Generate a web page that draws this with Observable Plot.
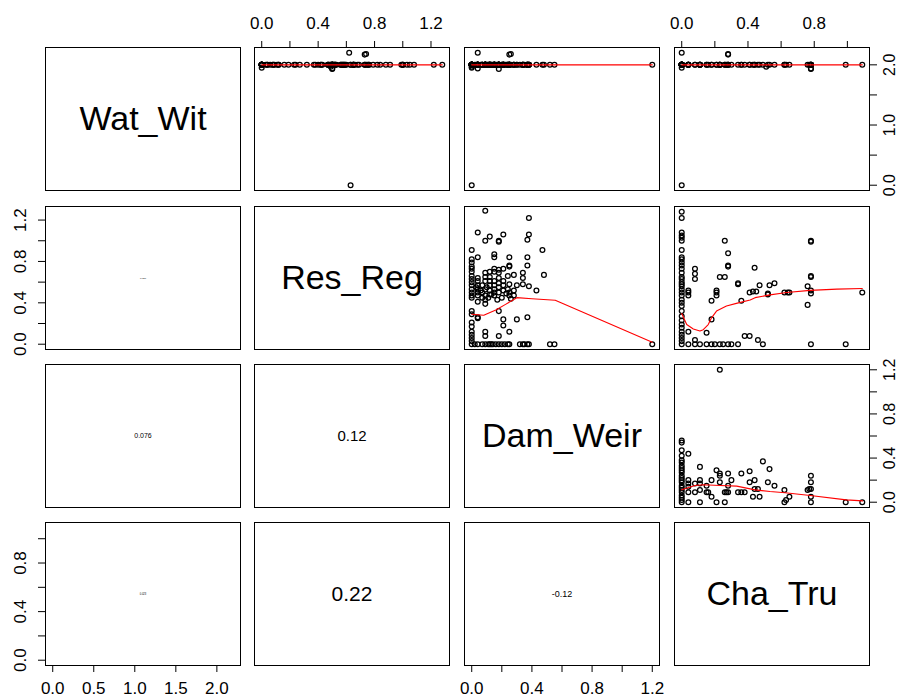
<!DOCTYPE html>
<html><head><meta charset="utf-8">
<script src="https://cdn.jsdelivr.net/npm/d3@7"></script>
<script src="https://cdn.jsdelivr.net/npm/@observablehq/plot@0.6"></script>
<style>
html,body{margin:0;padding:0;background:#fff;overflow:hidden;}
#chart{position:relative;width:900px;height:697px;overflow:hidden;background:#fff;}
#chart svg{position:absolute;overflow:visible;}
</style></head><body><div id="chart"></div>
<script>
// ---------------- data ----------------
const varNames = ["Wat_Wit", "Res_Reg", "Dam_Weir", "Cha_Tru"];
const varRanges = [[0, 2.2], [0, 1.28], [0, 1.2], [0, 1.09]];
const axisTicks = [
  [0, 0.5, 1, 1.5, 2],
  [0, 0.2, 0.4, 0.6, 0.8, 1.0, 1.2],
  [0, 0.2, 0.4, 0.6, 0.8, 1.0, 1.2],
  [0, 0.2, 0.4, 0.6, 0.8, 1.0]
];
const xTickLabels = [[0, 0.5, 1, 1.5, 2], [0, 0.4, 0.8, 1.2], [0, 0.4, 0.8, 1.2], [0, 0.4, 0.8]];
const yTickLabels = [[0, 1, 2], [0, 0.4, 0.8, 1.2], [0, 0.4, 0.8, 1.2], [0, 0.4, 0.8]];

// Res_Reg (y) against Dam_Weir (x)
const damRes = [
  [0,0.91],[0,0.82],[0,0.79],[0,0.75],[0,0.73],[0,0.70],[0,0.66],[0,0.63],[0,0.60],[0,0.57],[0,0.53],[0,0.50],[0,0.47],[0,0.45],[0,0.32],[0,0.29],[0,0.21],[0,0.17],[0,0.12],[0,0.09],[0,0.06],[0,0.03],[0,0],
  [0.04,1.08],[0.04,0.84],[0.04,0.64],[0.04,0.61],[0.04,0.57],[0.04,0.53],[0.04,0.50],[0.04,0.47],[0.04,0.41],[0.04,0.26],[0.04,0.25],[0.04,0],
  [0.02,0],[0.03,0.55],[0.06,0.52],
  [0.07,0],[0.07,0.57],[0.07,0.50],[0.07,0.45],
  [0.09,1.29],[0.09,1.0],[0.09,0.69],[0.09,0.65],[0.09,0.61],[0.09,0.53],[0.09,0.47],[0.09,0.43],[0.09,0.39],[0.09,0.12],[0.09,0.08],[0.09,0],
  [0.10,0.55],[0.11,0.45],[0.11,0],
  [0.12,1.04],[0.12,0.70],[0.12,0.65],[0.12,0.61],[0.12,0.57],[0.12,0.52],[0.12,0.48],[0.12,0],
  [0.13,0.48],[0.13,0],[0.14,0],
  [0.15,0.87],[0.15,0.84],[0.15,0.73],[0.15,0.70],[0.15,0.61],[0.15,0.57],[0.15,0.53],[0.15,0.50],[0.15,0.47],
  [0.16,0],[0.17,0.43],
  [0.18,1.0],[0.18,0.99],[0.18,0.72],[0.18,0.69],[0.18,0.64],[0.18,0.59],[0.18,0.55],[0.18,0.50],[0.18,0.32],[0.18,0.08],[0.18,0],
  [0.20,0.45],[0.20,0],
  [0.21,1.06],[0.21,0.73],[0.21,0.61],[0.21,0.57],[0.21,0.52],[0.21,0.24],[0.21,0.18],
  [0.22,0],[0.23,0.49],
  [0.24,0.66],[0.24,0.53],[0.24,0],
  [0.25,0.84],[0.25,0.75],[0.25,0.76],[0.25,0.58],[0.25,0.50],[0.25,0.47],[0.25,0.12],[0.25,0],
  [0.26,0.44],[0.28,0.67],[0.28,0.47],[0.28,0.52],
  [0.30,0.57],[0.30,0.24],
  [0.32,0],[0.34,0],
  [0.34,0.69],[0.34,0.64],[0.34,0.58],
  [0.35,0],
  [0.37,1.01],[0.37,0.84],[0.37,0.76],[0.37,0.26],[0.37,0],
  [0.38,1.22],[0.38,1.06],[0.38,0.56],[0.38,0],
  [0.43,0.52],[0.47,0.91],[0.48,0.67],
  [0.52,0],[0.55,0],[1.2,0]
];
const damResSmooth = [[0,0.29],[0.08,0.28],[0.16,0.33],[0.225,0.385],[0.30,0.45],[0.40,0.44],[0.555,0.425],[1.2,0.02]];

// Res_Reg (y) against Cha_Tru (x)
const chaRes = [
  [0,1.28],[0,1.22],[0,1.08],[0,1.05],[0,1.03],[0,1.0],[0,0.91],[0,0.84],[0,0.82],[0,0.79],[0,0.76],[0,0.73],[0,0.69],[0,0.65],[0,0.63],[0,0.60],[0,0.58],[0,0.56],[0,0.53],[0,0.50],[0,0.47],[0,0.43],[0,0.40],[0,0.37],[0,0.32],[0,0.27],[0,0.23],[0,0.19],[0,0.16],[0,0.12],[0,0.09],[0,0.06],[0,0.03],[0,0],
  [0.04,0.52],[0.04,0.50],[0.04,0.47],[0.04,0.12],[0.04,0],
  [0.08,0.73],[0.08,0.68],[0.08,0.63],[0.08,0.04],[0.08,0],
  [0.11,0],[0.15,0],[0.15,0.11],[0.18,0],[0.18,0.24],[0.18,0.42],
  [0.20,0],[0.21,0.52],[0.21,0.50],[0.21,0.47],
  [0.23,0],[0.23,0.65],[0.26,0.65],[0.26,1.0],[0.25,0],
  [0.28,0.88],[0.28,0.76],[0.28,0.75],[0.28,0],
  [0.30,0],[0.34,0.58],[0.34,0.59],[0.34,0],
  [0.36,0.42],[0.38,0.08],[0.41,0.08],[0.41,0.50],[0.43,0.51],[0.45,0.51],[0.44,0.74],[0.46,0.04],[0.47,0.57],[0.49,0],
  [0.52,0.48],[0.52,0.49],[0.53,0.57],[0.56,0.59],[0.62,0.50],[0.64,0.50],[0.65,0.50],
  [0.76,0.56],[0.76,0.38],[0.78,1.0],[0.78,0.99],[0.78,0.65],[0.78,0.66],[0.78,0.52],[0.78,0.49],[0.78,0],
  [0.99,0],[1.09,0.50]
];
const chaResSmooth = [[0,0.297],[0.03,0.19],[0.07,0.147],[0.11,0.127],[0.13,0.14],[0.16,0.19],[0.18,0.255],[0.21,0.32],[0.27,0.37],[0.33,0.395],[0.413,0.428],[0.443,0.45],[0.533,0.477],[0.634,0.5],[0.775,0.52],[0.937,0.532],[1.09,0.538]];

// Dam_Weir (y) against Cha_Tru (x)
const chaDam = [
  [0,0.56],[0,0.54],[0,0.47],[0,0.42],[0,0.38],[0,0.36],[0,0.33],[0,0.31],[0,0.29],[0,0.27],[0,0.24],[0,0.22],[0,0.20],[0,0.18],[0,0.15],[0,0.13],[0,0.11],[0,0.09],[0,0.06],[0,0.04],[0,0.02],[0,0],
  [0.23,1.2],
  [0.04,0.44],[0.04,0.20],[0.04,0.17],[0.04,0.14],[0.04,0.09],[0.04,0],
  [0.08,0.17],[0.08,0.09],
  [0.11,0.32],[0.11,0.20],[0.11,0.17],[0.11,0.11],[0.11,0],
  [0.15,0.15],[0.15,0.09],[0.16,0.09],
  [0.18,0.20],[0.18,0.05],
  [0.21,0.29],[0.21,0],
  [0.23,0.26],[0.23,0.24],[0.23,0.18],
  [0.26,0.09],[0.27,0.09],[0.26,0],
  [0.28,0.26],[0.28,0.15],[0.28,0.09],
  [0.30,0.20],
  [0.34,0.09],[0.36,0.09],[0.36,0.26],[0.38,0.09],
  [0.41,0.28],[0.41,0.18],
  [0.43,0.05],
  [0.44,0.20],[0.44,0.12],[0.46,0.12],
  [0.47,0.05],[0.49,0.37],[0.52,0.18],[0.53,0.30],[0.56,0.15],
  [0.62,0.11],[0.62,0],[0.63,0.02],[0.65,0.05],
  [0.76,0.11],[0.77,0.12],
  [0.78,0.24],[0.78,0.18],[0.78,0.12],[0.78,0.05],[0.78,0],
  [0.99,0],[1.09,0]
];
const chaDamSmooth = [[0,0.112],[0.08,0.152],[0.13,0.158],[0.232,0.152],[0.332,0.146],[0.443,0.112],[0.533,0.097],[0.624,0.085],[0.776,0.061],[0.993,0.021],[1.092,0.012]];

// Wat_Wit: almost all records sit at 2.0, a few depart from it
const watWitTypical = 2.0;
const watWitOthers = [
  {wat: 2.2, res: 0.62, dam: 0.04, cha: 0},
  {wat: 2.17, res: 0.73, dam: 0.25, cha: 0.28},
  {wat: 2.18, res: 0.74, dam: 0.26, cha: 0.28},
  {wat: 0, res: 0.63, dam: 0, cha: 0},
  {wat: 1.93, res: 0.5, dam: 0.18, cha: 0.78},
  {wat: 1.94, res: 0.5, dam: 0.04, cha: 0.78},
  {wat: 1.95, res: 0, dam: 0, cha: 0},
  {wat: 1.97, res: 0.49, dam: 0.0, cha: 0.51}
];

// correlations in the lower panels
const corrCells = [[1,0],[2,0],[3,0],[2,1],[3,1],[3,2]];
const corrLabels = ["0.026", "0.076", "0.023", "0.12", "0.22", "-0.12"];

// ---------------- layout / style ----------------
const PANEL_X = [45, 254, 464, 674], PANEL_Y = [47, 206, 364, 522];
const PW = 195, PH = 143, M = 45;
const FONT = "'Liberation Sans', Arial, Helvetica, sans-serif";
const corrFontPx = [2.4, 7, 2.6, 15, 21, 9];
const TICK = 7, TICK_FS = 17;
const chart = document.getElementById("chart");

const domains = varRanges.map(([a, b]) => { const e = (b - a) * 0.04; return [a - e, b + e]; });
const fmt = d => d.toFixed(1);

function xAxis(v, anchor) {
  return [
    Plot.axisX({anchor, ticks: axisTicks[v], tickSize: TICK, tickFormat: () => "", label: null, stroke: "black"}),
    Plot.text(xTickLabels[v], {x: d => d, text: fmt, frameAnchor: anchor, dy: anchor === "top" ? -18.7 : 16.8,
      lineAnchor: anchor === "top" ? "bottom" : "top", fontSize: TICK_FS, fill: "black"})
  ];
}
function yAxis(v, anchor) {
  return [
    Plot.axisY({anchor, ticks: axisTicks[v], tickSize: TICK, tickFormat: () => "", label: null, stroke: "black"}),
    Plot.text(yTickLabels[v], {y: d => d, text: fmt, frameAnchor: anchor, dx: anchor === "left" ? -20 : 14.5,
      rotate: -90, textAnchor: "middle", lineAnchor: anchor === "left" ? "bottom" : "top",
      fontSize: anchor === "left" ? TICK_FS : 16, fill: "black"})
  ];
}
function axesFor(i, j) {
  const out = [];
  if (i === 0 && j % 2 === 1) out.push(...xAxis(j, "top"));
  if (i === 3 && j % 2 === 0) out.push(...xAxis(j, "bottom"));
  if (j === 0 && i % 2 === 1) out.push(...yAxis(i, "left"));
  if (j === 3 && i % 2 === 0) out.push(...yAxis(i, "right"));
  return out;
}
const dots = data => Plot.dot(data, {x: d => d[0], y: d => d[1], r: 2.4, stroke: "black", fill: "none", strokeWidth: 1.25});
const smooth = data => Plot.line(data, {x: d => d[0], y: d => d[1], stroke: "red", strokeWidth: 1.1});

function panel(i, j, marks) {
  const svg = Plot.plot({
    width: PW + 2 * M, height: PH + 2 * M,
    marginTop: M, marginRight: M, marginBottom: M, marginLeft: M,
    x: {domain: domains[j], axis: null},
    y: {domain: domains[i], axis: null},
    style: {background: "transparent", fontFamily: FONT, overflow: "visible", color: "black", maxWidth: "none"},
    marks: [...marks, ...axesFor(i, j), Plot.frame({stroke: "black", strokeWidth: 1})]
  });
  svg.style.position = "absolute";
  svg.style.left = (PANEL_X[j] - M) + "px";
  svg.style.top = (PANEL_Y[i] - M) + "px";
  chart.appendChild(svg);
}

// top row: Wat_Wit against the other three
const keys = [null, "res", "dam", "cha"];
const typicalValues = [null, chaRes.map(d => d[1]), damRes.map(d => d[0]), chaDam.map(d => d[0])];
for (let j = 1; j < 4; j++) {
  const pts = typicalValues[j].map(x => [x, watWitTypical]).concat(watWitOthers.map(o => [o[keys[j]], o.wat]));
  const ext = d3.extent(pts, d => d[0]);
  panel(0, j, [dots(pts), smooth([[ext[0], watWitTypical], [ext[1], watWitTypical]])]);
}
panel(1, 2, [dots(damRes), smooth(damResSmooth)]);
panel(1, 3, [dots(chaRes), smooth(chaResSmooth)]);
panel(2, 3, [dots(chaDam), smooth(chaDamSmooth)]);

// diagonal names
varNames.forEach((name, k) => panel(k, k, [Plot.text([name], {frameAnchor: "middle", text: d => d, fontSize: 34, fill: "black"})]));

// lower triangle correlations
corrCells.forEach(([i, j], k) => panel(i, j, [Plot.text([corrLabels[k]], {frameAnchor: "middle", text: d => d, fontSize: corrFontPx[k], fill: "black"})]));
</script>
</body></html>
